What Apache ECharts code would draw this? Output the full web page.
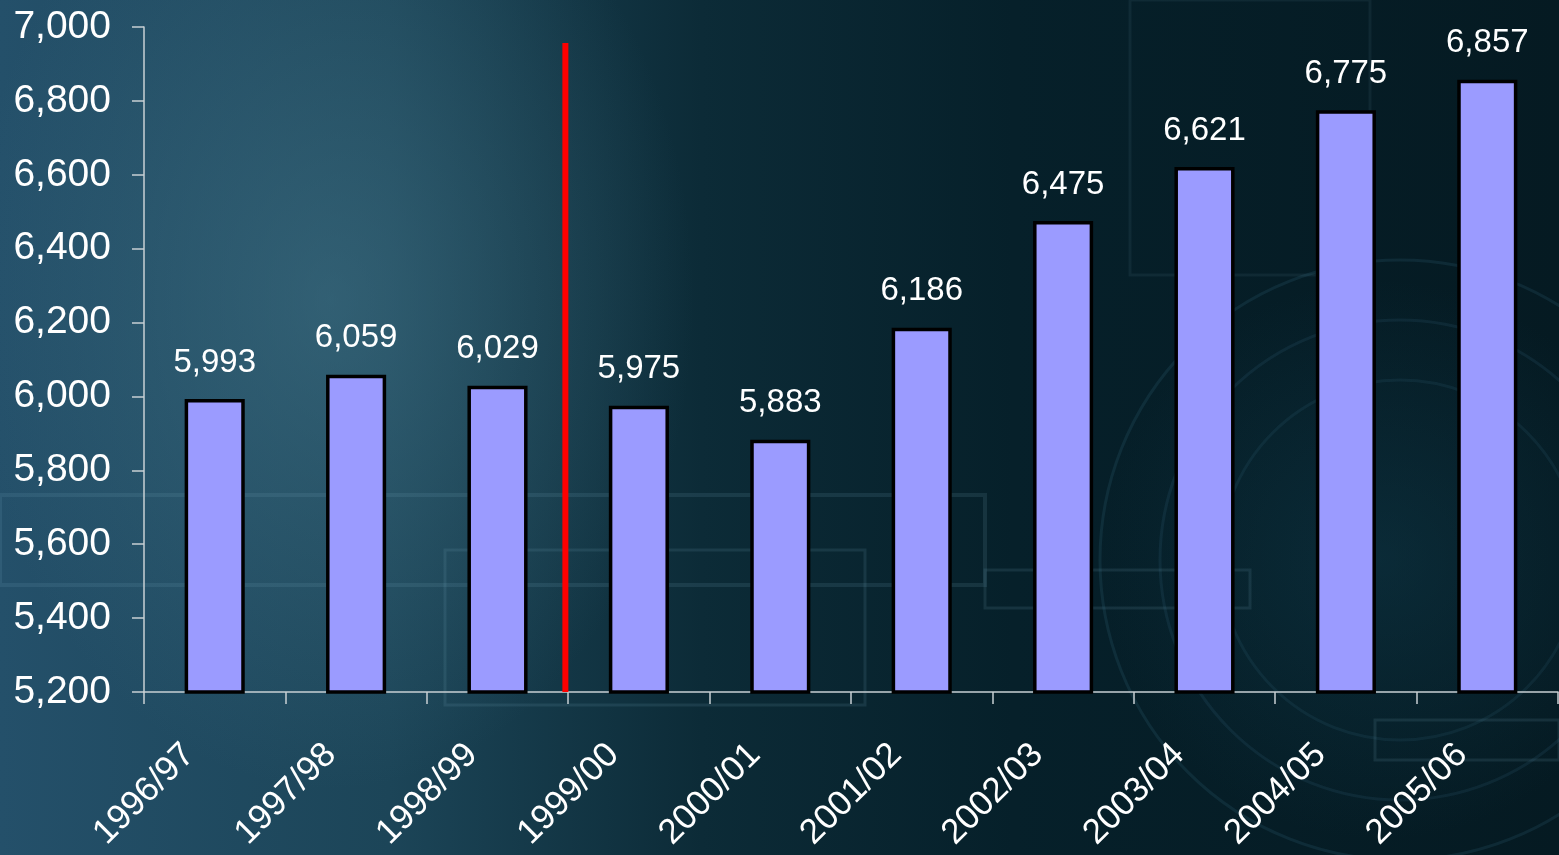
<!DOCTYPE html>
<html>
<head>
<meta charset="utf-8">
<script src="https://cdn.jsdelivr.net/npm/echarts@6/dist/echarts.min.js"></script>
<style>
html,body{margin:0;padding:0;width:1559px;height:855px;overflow:hidden;}
#bg{position:absolute;left:0;top:0;width:1559px;height:855px;
background:
 radial-gradient(ellipse 520px 700px at 330px 300px, rgba(70,120,140,0.5), rgba(40,80,100,0) 70%),
 radial-gradient(ellipse 400px 400px at 1380px 560px, rgba(20,70,90,0.35), rgba(0,0,0,0) 70%),
 linear-gradient(90deg, #24506a 0%, #1c4558 25%, #0c2b37 45%, #06202a 65%, #051a22 100%);}
#chart{position:absolute;left:0;top:0;width:1559px;height:855px;}
</style>
</head>
<body>
<div id="bg"></div>
<div id="chart"></div>
<script>
const categories = ['1996/97','1997/98','1998/99','1999/00','2000/01','2001/02','2002/03','2003/04','2004/05','2005/06'];
const values = [5993, 6059, 6029, 5975, 5883, 6186, 6475, 6621, 6775, 6857];
const dividerX = 2.98;
const dividerY = [5200, 6957];
const yTicks = {min: 5200, max: 7000, interval: 200};

const chart = echarts.init(document.getElementById('chart'), null, {renderer: 'canvas'});
const font = '"Liberation Sans", Arial, sans-serif';
const bgLine = 'rgba(120,170,190,0.14)';
chart.setOption({
  backgroundColor: 'transparent',
  animation: false,
  graphic: [
    {type:'rect', z:-1, shape:{x:0,y:495,width:985,height:90}, style:{fill:'none',stroke:bgLine,lineWidth:4}},
    {type:'rect', z:-1, shape:{x:445,y:550,width:420,height:155}, style:{fill:'none',stroke:bgLine,lineWidth:3}},
    {type:'rect', z:-1, shape:{x:985,y:570,width:265,height:38}, style:{fill:'none',stroke:bgLine,lineWidth:3}},
    {type:'rect', z:-1, shape:{x:1375,y:720,width:184,height:40}, style:{fill:'none',stroke:bgLine,lineWidth:3}},
    {type:'rect', z:-1, shape:{x:1130,y:0,width:240,height:275}, style:{fill:'none',stroke:'rgba(120,170,190,0.09)',lineWidth:3}},
    {type:'circle', z:-1, shape:{cx:1400,cy:560,r:300}, style:{fill:'none',stroke:'rgba(80,150,180,0.13)',lineWidth:3}},
    {type:'circle', z:-1, shape:{cx:1400,cy:560,r:240}, style:{fill:'none',stroke:'rgba(80,150,180,0.11)',lineWidth:3}},
    {type:'circle', z:-1, shape:{cx:1400,cy:560,r:180}, style:{fill:'none',stroke:'rgba(80,150,180,0.10)',lineWidth:3}}
  ],
  grid: {left: 144, right: 1, top: 27, bottom: 163, containLabel: false, outerBoundsMode: 'none'},
  xAxis: [{
    type: 'category',
    data: categories,
    boundaryGap: true,
    axisLine: {show: true, lineStyle: {color: '#c8d0d4', width: 1.5}},
    axisTick: {show: true, alignWithLabel: false, length: 12, lineStyle: {color: '#c8d0d4', width: 1.5}},
    axisLabel: {rotate: 45, color: '#ffffff', fontSize: 35, fontFamily: font, margin: 32, padding: [0, 36, 0, 0], interval: 0},
    splitLine: {show: false}
  }, {
    type: 'value', min: 0, max: 10, show: false
  }],
  yAxis: {
    type: 'value',
    min: yTicks.min, max: yTicks.max, interval: yTicks.interval,
    axisLine: {show: true, lineStyle: {color: '#c8d0d4', width: 1.5}},
    axisTick: {show: true, length: 12, lineStyle: {color: '#c8d0d4', width: 1.5}},
    axisLabel: {color: '#ffffff', fontSize: 39, fontFamily: font, margin: 33,
      formatter: v => v.toLocaleString('en-US')},
    splitLine: {show: false}
  },
  series: [{
    type: 'bar',
    data: values,
    barWidth: '42.5%',
    itemStyle: {color: '#9b9bff', borderColor: '#000000', borderWidth: 3.5},
    label: {show: true, position: 'top', distance: 20, color: '#ffffff', fontSize: 33, fontFamily: font,
      formatter: p => p.value.toLocaleString('en-US')}
  }, {
    type: 'line',
    xAxisIndex: 1,
    data: [[dividerX, dividerY[0]], [dividerX, dividerY[1]]],
    symbol: 'none',
    lineStyle: {color: '#ff0000', width: 6},
    z: 5
  }]
});
</script>
</body>
</html>
